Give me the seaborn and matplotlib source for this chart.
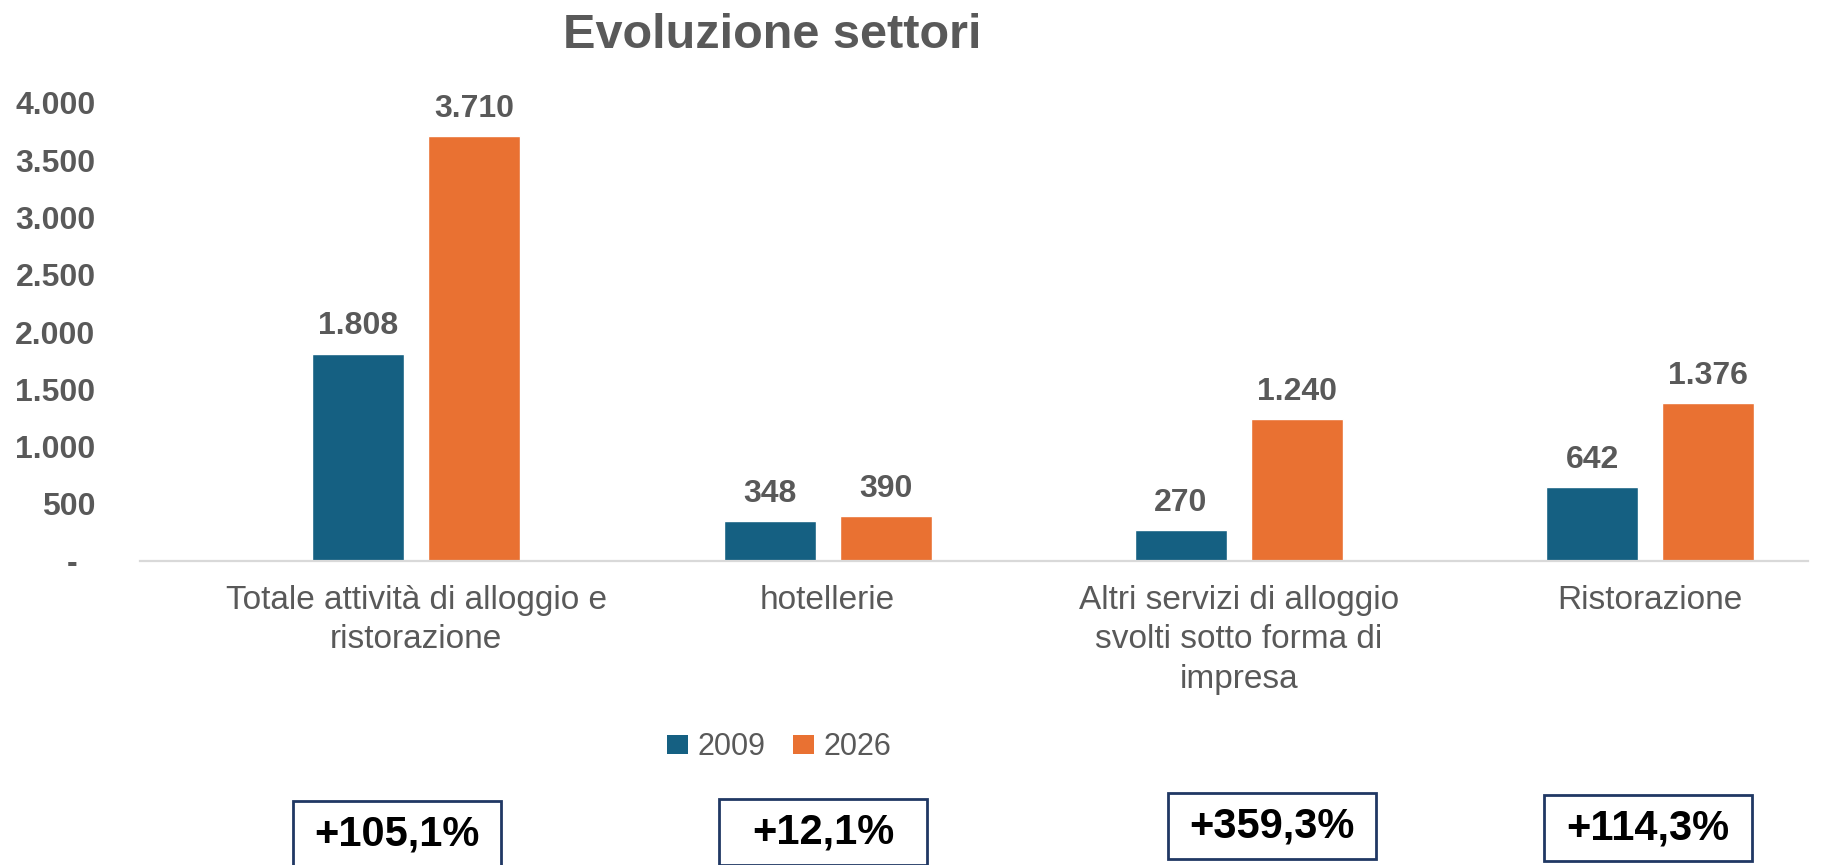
import numpy as np
import pandas as pd
import matplotlib
matplotlib.use('Agg')
import matplotlib.pyplot as plt
from matplotlib.patches import Patch, Rectangle
import seaborn as sns

# dati
categorie = ['Totale attività di alloggio e ristorazione', 'hotellerie',
             'Altri servizi di alloggio svolti sotto forma di impresa', 'Ristorazione']
etichette = ['Totale attività di alloggio e\nristorazione', 'hotellerie',
             'Altri servizi di alloggio\nsvolti sotto forma di\nimpresa', 'Ristorazione']
anni = ['2009', '2026']
valori_2009 = [1808, 348, 270, 642]
valori_2026 = [3710, 390, 1240, 1376]
variazioni = ['+105,1%', '+12,1%', '+359,3%', '+114,3%']
yticks = [0, 500, 1000, 1500, 2000, 2500, 3000, 3500, 4000]

colori = ['#156082', '#E97132']
grigio = '#595959'

sns.set_style('white')
plt.rcParams['font.family'] = ['Liberation Sans', 'DejaVu Sans']

W, H = 1835, 865


def fmt(v):
    return f'{int(v):,}'.replace(',', '.')


df = pd.DataFrame({
    'settore': categorie * 2,
    'anno': [anni[0]] * 4 + [anni[1]] * 4,
    'valore': valori_2009 + valori_2026,
})

fig = plt.figure(figsize=(W / 100, H / 100), dpi=100)
ax = fig.add_axes([140 / W, 1 - 561 / H, 1668 / W, 458 / H])

sns.barplot(data=df, x='settore', y='valore', hue='anno', palette=colori,
            width=0.564, gap=0.206, saturation=1, legend=False, ax=ax)

for cont in ax.containers:
    ax.bar_label(cont, labels=[fmt(b.get_height()) for b in cont], padding=9,
                 fontsize=23, fontweight='bold', color=grigio)

ax.set_xlim(-0.672, 3.384)
ax.set_ylim(0, 4000)
ax.set_yticks(yticks)
ax.set_yticklabels(['-  ' if v == 0 else fmt(v) for v in yticks],
                   fontsize=23, fontweight='bold', color=grigio)
ax.set_xticks(range(len(categorie)))
ax.set_xticklabels(etichette, fontsize=24, color=grigio, linespacing=1.37)
ax.tick_params(axis='y', length=0, pad=32)
ax.tick_params(axis='x', length=0, pad=17)
ax.set_xlabel('')
ax.set_ylabel('')
for s in ['left', 'right', 'top']:
    ax.spines[s].set_visible(False)
ax.spines['bottom'].set_color('#D9D9D9')
ax.spines['bottom'].set_linewidth(1.6)

fig.text(772 / W, 1 - 35 / H, 'Evoluzione settori', ha='center', va='center',
         fontsize=35, fontweight='bold', color=grigio)

handles = [Patch(facecolor=c, edgecolor='none') for c in colori]
fig.legend(handles, anni, loc='center', bbox_to_anchor=(779 / W, 1 - 747 / H),
           ncol=2, frameon=False, fontsize=22, labelcolor=grigio,
           handlelength=0.7, handleheight=0.56, handletextpad=0.3,
           columnspacing=0.9)

# riquadri con le variazioni percentuali
box_cx = [397, 823, 1272, 1648]
box_cy = [834, 832, 826, 828]
box_w, box_h = 208, 66
for cx, cy, testo in zip(box_cx, box_cy, variazioni):
    fig.add_artist(Rectangle(((cx - box_w / 2) / W, 1 - (cy + box_h / 2) / H),
                             box_w / W, box_h / H, transform=fig.transFigure,
                             fill=False, edgecolor='#203864', linewidth=2))
    fig.text(cx / W, 1 - cy / H, testo, ha='center', va='center',
             fontsize=30, fontweight='bold', color='black')

fig.savefig('out.png', dpi=100)
plt.close(fig)
